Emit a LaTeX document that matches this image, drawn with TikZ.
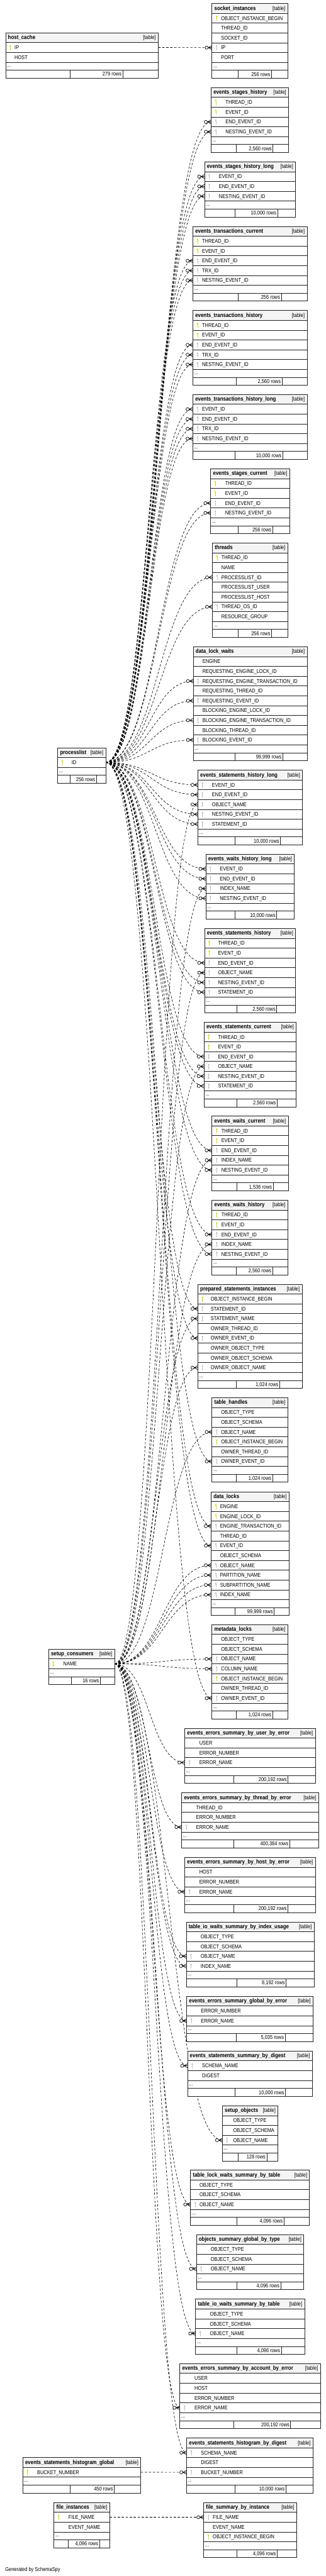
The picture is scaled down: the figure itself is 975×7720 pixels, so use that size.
\documentclass[tikz,border=0pt]{standalone}
\usepackage{fontspec}
\setmainfont{Liberation Sans}[FakeStretch=0.85]
\usetikzlibrary{calc}
\pgfdeclarelayer{bg}
\pgfsetlayers{bg,main}
\definecolor{pkcol}{RGB}{214,214,0}
\definecolor{fkcol}{RGB}{190,190,190}
\definecolor{hdrcol}{RGB}{244,244,244}
\definecolor{bordcol}{RGB}{34,34,34}
\tikzset{
  tbox/.style={rectangle, anchor=north west, draw=bordcol, line width=1.5pt, fill=white, inner sep=0pt, outer sep=0pt},
  hdrbox/.style={tbox, fill=hdrcol, minimum height=29.4pt},
  rowbox/.style={tbox, minimum height=29.4pt},
  dotbox/.style={tbox, minimum height=23.8pt},
  footbox/.style={tbox, minimum height=23.8pt},
  fld/.style={inner sep=0pt, font=\fontsize{16.5}{18}\selectfont},
  ttl/.style={inner sep=0pt, font=\fontsize{17.5}{20}\selectfont\bfseries},
  bord/.style={draw=bordcol, line width=1.5pt},
  conn/.style={draw=black, line width=1.2pt, dash pattern=on 7pt off 5pt,
    to path={.. controls ($(\tikztostart)!0.5!(\tikztotarget|-\tikztostart)$) and ($(\tikztotarget)!0.5!(\tikztostart|-\tikztotarget)$) .. (\tikztotarget)}},
  crow/.pic={
    \draw[solid, line width=1.3pt, fill=white] (-16,0) circle (4.7pt);
    \draw[solid, line width=1.3pt] (-10.8,0) -- (0,-6) (-10.8,0) -- (0,6) (-11.3,0) -- (0,0);
  },
  pkey/.pic={
    \fill[pkcol] (0,-4.6) ellipse (2.4pt and 3.2pt);
    \draw[pkcol, line width=1.6pt] (0,-2) -- (0,8);
    \draw[pkcol, line width=1.3pt] (0,4.8) -- (1.9,4.8);
  },
  fkey/.pic={
    \fill[fkcol] (0,-4.6) ellipse (2.4pt and 3.2pt);
    \draw[fkcol, line width=1.6pt] (0,-2) -- (0,8);
    \draw[fkcol, line width=1.3pt] (0,4.8) -- (1.9,4.8);
  }
}
% id, xl, xr, ytop, title, fields, rows, d1, d2 ; text offset in \toff
\newcommand{\erd}[9]{%
  \pgfmathsetmacro{\tw}{#3-#2}%
  \node[hdrbox, minimum width=\tw pt] (#1-h) at (#2,#4) {};
  \node[ttl, anchor=base west] (#1-t) at ({#2+7},{#4+19.8}) {#5};
  \node[fld, anchor=base east] (#1-tb) at ({#3-7},{#4+19.8}) {[table]};
  \foreach \k/\f [count=\i] in {#6} {
    \node[rowbox, minimum width=\tw pt] (#1-\i) at (#2,{#4+29.4*\i}) {};
    \if P\k \pic at ({#2+14},{#4+29.4*\i+14.7}) {pkey}; \fi
    \if F\k \pic at ({#2+14},{#4+29.4*\i+14.7}) {fkey}; \fi
    \node[fld, anchor=base west] (#1-\i-txt) at ({#2+\toff},{#4+29.4*\i+20.6}) {\f};
    \xdef\nf{\i}%
  }
  \pgfmathsetmacro{\yd}{#4+29.4*(\nf+1)}%
  \node[dotbox, minimum width=\tw pt] (#1-d) at (#2,\yd) {};
  \node[fld, anchor=base west] (#1-dt) at ({#2+4},{\yd+15}) {...};
  \pgfmathsetmacro{\yf}{\yd+23.8}%
  \node[footbox, minimum width=\tw pt] (#1-f) at (#2,\yf) {};
  \draw[bord] (#8,\yf) -- ++(0,23.8) (#9,\yf) -- ++(0,23.8);
  \node[fld, anchor=base east] (#1-ft) at ({#9-3.5},{\yf+17.5}) {#7};
}
\begin{document}
\catcode`\_=12
\begin{tikzpicture}[x=1pt,y=-1pt]
\useasboundingbox (0,0) rectangle (975,7720);

\def\toff{26.7}\erd{hc}{16.8}{473.8}{98.2}{host_cache}{P/IP,N/HOST}{279 rows}{210}{367.5}
\def\toff{27}\erd{si}{634.9}{861.8}{10.4}{socket_instances}{P/OBJECT_INSTANCE_BEGIN,N/THREAD_ID,N/SOCKET_ID,F/IP,N/PORT}{256 rows}{713.8}{813.3}
\def\toff{43}\erd{esh}{632.4}{864.3}{262.4}{events_stages_history}{P/THREAD_ID,P/EVENT_ID,F/END_EVENT_ID,F/NESTING_EVENT_ID}{2,560 rows}{707}{817.7}
\def\toff{43}\erd{eshl}{612.5}{885.4}{485}{events_stages_history_long}{F/EVENT_ID,F/END_EVENT_ID,F/NESTING_EVENT_ID}{10,000 rows}{704.5}{831.3}
\def\toff{27.3}\erd{etc}{577.7}{919.6}{678.5}{events_transactions_current}{P/THREAD_ID,P/EVENT_ID,F/END_EVENT_ID,F/TRX_ID,F/NESTING_EVENT_ID}{256 rows}{713.8}{842.5}
\def\toff{27.3}\erd{eth}{577.7}{919.6}{930.6}{events_transactions_history}{P/THREAD_ID,P/EVENT_ID,F/END_EVENT_ID,F/TRX_ID,F/NESTING_EVENT_ID}{2,560 rows}{707}{844.4}
\def\toff{27.3}\erd{ethl}{577.7}{919.6}{1182.2}{events_transactions_history_long}{F/EVENT_ID,F/END_EVENT_ID,F/TRX_ID,F/NESTING_EVENT_ID}{10,000 rows}{703.3}{846.9}
\def\toff{43}\erd{esc}{631.1}{867.4}{1404.8}{events_stages_current}{P/THREAD_ID,P/EVENT_ID,F/END_EVENT_ID,F/NESTING_EVENT_ID}{256 rows}{713.8}{816.4}
\def\toff{26.7}\erd{th}{636.1}{861.8}{1627.4}{threads}{P/THREAD_ID,N/NAME,F/PROCESSLIST_ID,N/PROCESSLIST_USER,N/PROCESSLIST_HOST,F/THREAD_OS_ID,N/RESOURCE_GROUP}{256 rows}{713.8}{813.3}
\def\toff{27.4}\erd{dlw}{578.9}{919.6}{1938.2}{data_lock_waits}{N/ENGINE,N/REQUESTING_ENGINE_LOCK_ID,F/REQUESTING_ENGINE_TRANSACTION_ID,N/REQUESTING_THREAD_ID,F/REQUESTING_EVENT_ID,N/BLOCKING_ENGINE_LOCK_ID,F/BLOCKING_ENGINE_TRANSACTION_ID,N/BLOCKING_THREAD_ID,F/BLOCKING_EVENT_ID}{99,999 rows}{704.5}{846.9}
\def\toff{41.6}\erd{pl}{172.9}{316.5}{2240.8}{processlist}{P/ID}{256 rows}{210.2}{288.5}
\def\toff{42.3}\erd{estl}{592.6}{906}{2308}{events_statements_history_long}{F/EVENT_ID,F/END_EVENT_ID,F/OBJECT_NAME,F/NESTING_EVENT_ID,F/STATEMENT_ID}{10,000 rows}{704.5}{840}
\def\toff{42.3}\erd{ewhl}{616.2}{881.7}{2559.8}{events_waits_history_long}{F/EVENT_ID,F/END_EVENT_ID,F/INDEX_NAME,F/NESTING_EVENT_ID}{10,000 rows}{704.5}{828.9}
\def\toff{40.4}\erd{esth}{612.5}{885.4}{2782.6}{events_statements_history}{P/THREAD_ID,P/EVENT_ID,F/END_EVENT_ID,F/OBJECT_NAME,F/NESTING_EVENT_ID,F/STATEMENT_ID}{2,560 rows}{708.9}{828.9}
\def\toff{41.7}\erd{estc}{611.2}{887.3}{3063.6}{events_statements_current}{P/THREAD_ID,P/EVENT_ID,F/END_EVENT_ID,F/OBJECT_NAME,F/NESTING_EVENT_ID,F/STATEMENT_ID}{2,560 rows}{708.9}{830.1}
\def\toff{27.9}\erd{ewc}{634.9}{863.1}{3344.7}{events_waits_current}{P/THREAD_ID,P/EVENT_ID,F/END_EVENT_ID,F/INDEX_NAME,F/NESTING_EVENT_ID}{1,536 rows}{708.9}{818.3}
\def\toff{27.9}\erd{ewh}{634.9}{861.8}{3596.7}{events_waits_history}{P/THREAD_ID,P/EVENT_ID,F/END_EVENT_ID,F/INDEX_NAME,F/NESTING_EVENT_ID}{2,560 rows}{707.6}{816.4}
\def\toff{38.5}\erd{psi}{592.6}{904.7}{3848.7}{prepared_statements_instances}{P/OBJECT_INSTANCE_BEGIN,F/STATEMENT_ID,F/STATEMENT_NAME,N/OWNER_THREAD_ID,F/OWNER_EVENT_ID,N/OWNER_OBJECT_TYPE,N/OWNER_OBJECT_SCHEMA,F/OWNER_OBJECT_NAME}{1,024 rows}{707}{837.6}
\def\toff{27.3}\erd{thd}{634.9}{861.8}{4188.6}{table_handles}{N/OBJECT_TYPE,N/OBJECT_SCHEMA,F/OBJECT_NAME,P/OBJECT_INSTANCE_BEGIN,N/OWNER_THREAD_ID,F/OWNER_EVENT_ID}{1,024 rows}{707}{816.4}
\def\toff{26.6}\erd{dl}{632.4}{865.5}{4470.5}{data_locks}{P/ENGINE,P/ENGINE_LOCK_ID,F/ENGINE_TRANSACTION_ID,N/THREAD_ID,F/EVENT_ID,N/OBJECT_SCHEMA,F/OBJECT_NAME,F/PARTITION_NAME,F/SUBPARTITION_NAME,F/INDEX_NAME}{99,999 rows}{704.5}{820.8}
\def\toff{27.3}\erd{ml}{634.9}{861.8}{4868.8}{metadata_locks}{N/OBJECT_TYPE,N/OBJECT_SCHEMA,F/OBJECT_NAME,F/COLUMN_NAME,P/OBJECT_INSTANCE_BEGIN,N/OWNER_THREAD_ID,F/OWNER_EVENT_ID}{1,024 rows}{707}{816.4}
\def\toff{44.1}\erd{sc}{145.5}{343.2}{4942.2}{setup_consumers}{P/NAME}{16 rows}{213.9}{300.3}
\def\toff{43.5}\erd{eeu}{553.4}{944.5}{5179.3}{events_errors_summary_by_user_by_error}{N/USER,N/ERROR_NUMBER,F/ERROR_NAME}{200,192 rows}{700.8}{862.4}
\def\toff{42.9}\erd{eet}{544.1}{954.5}{5372.8}{events_errors_summary_by_thread_by_error}{N/THREAD_ID,N/ERROR_NUMBER,F/ERROR_NAME}{400,384 rows}{700.8}{867.4}
\def\toff{43.5}\erd{eeh}{553.4}{944.5}{5566.4}{events_errors_summary_by_host_by_error}{N/HOST,N/ERROR_NUMBER,F/ERROR_NAME}{200,192 rows}{700.8}{862.4}
\def\toff{42.9}\erd{tiwi}{557.8}{940.8}{5759.6}{table_io_waits_summary_by_index_usage}{N/OBJECT_TYPE,N/OBJECT_SCHEMA,F/OBJECT_NAME,F/INDEX_NAME}{8,192 rows}{708.9}{856.8}
\def\toff{42.9}\erd{eeg}{559}{937.7}{5982.6}{events_errors_summary_global_by_error}{N/ERROR_NUMBER,F/ERROR_NAME}{5,035 rows}{707}{853.7}
\def\toff{43.5}\erd{essd}{561.5}{935.2}{6146.7}{events_statements_summary_by_digest}{F/SCHEMA_NAME,N/DIGEST}{10,000 rows}{703.3}{855}
\def\toff{32.3}\erd{so}{666}{832.6}{6310.9}{setup_objects}{N/OBJECT_TYPE,N/OBJECT_SCHEMA,F/OBJECT_NAME}{128 rows}{713.8}{799}
\def\toff{26.7}\erd{tlw}{570.8}{927.1}{6503.6}{table_lock_waits_summary_by_table}{N/OBJECT_TYPE,N/OBJECT_SCHEMA,F/OBJECT_NAME}{4,096 rows}{708.9}{850}
\def\toff{42.9}\erd{osg}{588.2}{909.7}{6696.8}{objects_summary_global_by_type}{N/OBJECT_TYPE,N/OBJECT_SCHEMA,F/OBJECT_NAME}{4,096 rows}{708.9}{840.7}
\def\toff{42.9}\erd{tiwt}{585.7}{912.2}{6890.4}{table_io_waits_summary_by_table}{N/OBJECT_TYPE,N/OBJECT_SCHEMA,F/OBJECT_NAME}{4,096 rows}{708.9}{842.5}
\def\toff{44.1}\erd{eea}{538.5}{959.4}{7083.4}{events_errors_summary_by_account_by_error}{N/USER,N/HOST,N/ERROR_NUMBER,F/ERROR_NAME}{200,192 rows}{700.8}{870.5}
\def\toff{42.9}\erd{eshd}{559}{937.7}{7306.3}{events_statements_histogram_by_digest}{F/SCHEMA_NAME,N/DIGEST,F/BUCKET_NUMBER}{10,000 rows}{703.3}{856.2}
\def\toff{42.9}\erd{eshg}{68.4}{421.6}{7364.8}{events_statements_histogram_global}{P/BUCKET_NUMBER}{450 rows}{210.2}{342}
\def\toff{43.5}\erd{fi}{161.7}{328.3}{7499.7}{file_instances}{P/FILE_NAME,N/EVENT_NAME}{4,096 rows}{204.6}{297.8}
\def\toff{27.3}\erd{fsi}{610}{888.5}{7499.7}{file_summary_by_instance}{F/FILE_NAME,N/EVENT_NAME,P/OBJECT_INSTANCE_BEGIN}{4,096 rows}{708.9}{830.1}

\node[fld, anchor=base west] (gen) at (15.5,7705) {Generated by SchemaSpy};

\begin{pgfonlayer}{bg}
  \fill[white] (0,0) rectangle (975,7720);
  \draw[conn] (hc-1.east) to (si-4.west);
  \draw[conn] (eshg-1.east) to (eshd-3.west);
  \draw[conn] (fi-1.east) to (fsi-1.west);
  \foreach \t in {esh-3,esh-4,eshl-1,eshl-2,eshl-3,etc-3,etc-4,etc-5,eth-3,eth-4,eth-5,ethl-1,ethl-2,ethl-3,ethl-4,esc-3,esc-4,th-3,th-6,dlw-3,dlw-5,dlw-7,dlw-9,estl-1,estl-2,estl-4,estl-5,ewhl-1,ewhl-2,ewhl-4,esth-3,esth-5,esth-6,estc-3,estc-5,estc-6,ewc-3,ewc-5,ewh-3,ewh-5,psi-2,psi-5,thd-6,dl-3,dl-5,ml-7}
    {\draw[conn] (pl-1.east) to (\t.west);}
  \foreach \t in {estl-3,ewhl-3,esth-4,estc-4,ewc-4,ewh-4,psi-3,psi-8,thd-3,dl-7,dl-8,dl-9,dl-10,ml-3,ml-4,eeu-3,eet-3,eeh-3,tiwi-3,tiwi-4,eeg-2,essd-1,so-3,tlw-3,osg-3,tiwt-3,eea-4,eshd-1}
    {\draw[conn] (sc-1.east) to (\t.west);}
\end{pgfonlayer}

\foreach \t in {si-4,eshd-3,fsi-1,esh-3,esh-4,eshl-1,eshl-2,eshl-3,etc-3,etc-4,etc-5,eth-3,eth-4,eth-5,ethl-1,ethl-2,ethl-3,ethl-4,esc-3,esc-4,th-3,th-6,dlw-3,dlw-5,dlw-7,dlw-9,estl-1,estl-2,estl-4,estl-5,ewhl-1,ewhl-2,ewhl-4,esth-3,esth-5,esth-6,estc-3,estc-5,estc-6,ewc-3,ewc-5,ewh-3,ewh-5,psi-2,psi-5,thd-6,dl-3,dl-5,ml-7,estl-3,ewhl-3,esth-4,estc-4,ewc-4,ewh-4,psi-3,psi-8,thd-3,dl-7,dl-8,dl-9,dl-10,ml-3,ml-4,eeu-3,eet-3,eeh-3,tiwi-3,tiwi-4,eeg-2,essd-1,so-3,tlw-3,osg-3,tiwt-3,eea-4,eshd-1}
  {\pic at (\t.west) {crow};}
\end{tikzpicture}
\end{document}
